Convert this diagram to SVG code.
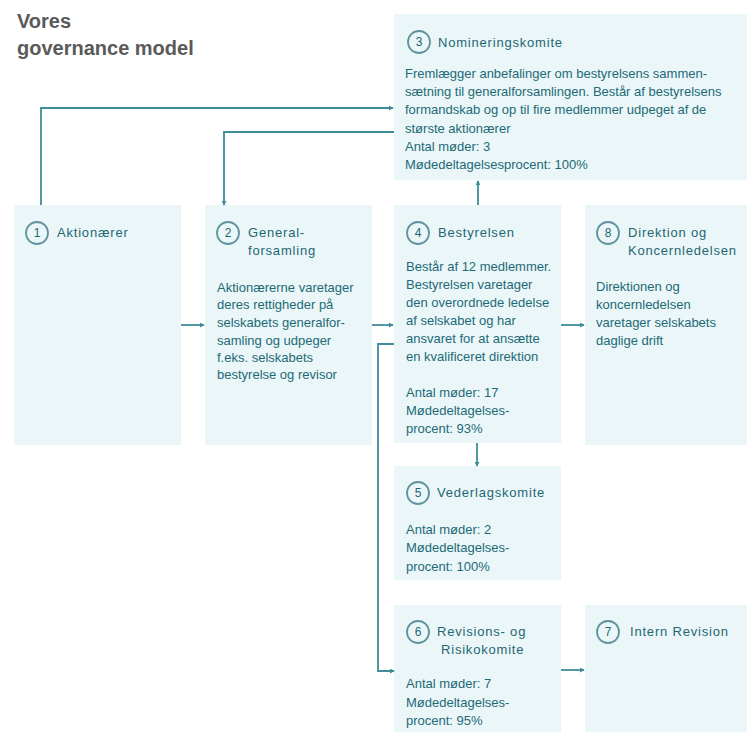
<svg xmlns="http://www.w3.org/2000/svg" width="747" height="732" viewBox="0 0 747 732">
<defs>
<style>
.box{fill:#eaf6f8;}
.ring{fill:none;stroke:#5f949d;stroke-width:1.8;}
.num{font-family:"Liberation Sans",Arial,sans-serif;font-size:12px;fill:#1f6673;text-anchor:middle;}
.ttl{font-family:"Liberation Sans",Arial,sans-serif;font-size:13px;fill:#1f6673;letter-spacing:0.8px;}
.txt{font-family:"Liberation Sans",Arial,sans-serif;font-size:13px;fill:#1d6a77;}
.head{font-family:"Liberation Sans",Arial,sans-serif;font-size:20px;font-weight:bold;fill:#5a5a5a;}
.con{fill:none;stroke:#3f8d9a;stroke-width:1.8;}
</style>
<marker id="ah" viewBox="0 0 6 6" refX="5" refY="3" markerWidth="5" markerHeight="5" markerUnits="userSpaceOnUse" orient="auto">
<path d="M0,0 L6,3 L0,6 z" fill="#3f8d9a"/>
</marker>
</defs>
<rect width="747" height="732" fill="#ffffff"/>

<g id="title">
<text class="head" x="17" y="28">Vores</text>
<text class="head" x="17" y="55">governance model</text>
</g>

<g id="n3">
<rect class="box" x="394" y="14" width="353" height="166"/>
<circle class="ring" cx="419" cy="42" r="11"/>
<text class="num" x="419" y="46">3</text>
<text class="ttl" x="438" y="47">Nomineringskomite</text>
<text class="txt" x="405" y="78">Fremlægger anbefalinger om bestyrelsens sammen-</text>
<text class="txt" x="405" y="96">sætning til generalforsamlingen. Består af bestyrelsens</text>
<text class="txt" x="405" y="114">formandskab og op til fire medlemmer udpeget af de</text>
<text class="txt" x="405" y="133">største aktionærer</text>
<text class="txt" x="405" y="151">Antal møder: 3</text>
<text class="txt" x="405" y="169">Mødedeltagelsesprocent: 100%</text>
</g>

<g id="n1">
<rect class="box" x="14" y="205" width="167" height="240"/>
<circle class="ring" cx="37" cy="233" r="11"/>
<text class="num" x="37" y="237">1</text>
<text class="ttl" x="57" y="237">Aktionærer</text>
</g>

<g id="n2">
<rect class="box" x="205" y="205" width="167" height="240"/>
<circle class="ring" cx="228" cy="233" r="11"/>
<text class="num" x="228" y="237">2</text>
<text class="ttl" x="248" y="237">General-</text>
<text class="ttl" x="248" y="255">forsamling</text>
<text class="txt" x="217" y="292">Aktionærerne varetager</text>
<text class="txt" x="217" y="309">deres rettigheder på</text>
<text class="txt" x="217" y="327">selskabets generalfor-</text>
<text class="txt" x="217" y="345">samling og udpeger</text>
<text class="txt" x="217" y="362">f.eks. selskabets</text>
<text class="txt" x="217" y="379">bestyrelse og revisor</text>
</g>

<g id="n4">
<rect class="box" x="394" y="205" width="167" height="238"/>
<circle class="ring" cx="418" cy="233" r="11"/>
<text class="num" x="418" y="237">4</text>
<text class="ttl" x="438" y="237">Bestyrelsen</text>
<text class="txt" x="406" y="271">Består af 12 medlemmer.</text>
<text class="txt" x="406" y="289">Bestyrelsen varetager</text>
<text class="txt" x="406" y="307">den overordnede ledelse</text>
<text class="txt" x="406" y="325">af selskabet og har</text>
<text class="txt" x="406" y="343">ansvaret for at ansætte</text>
<text class="txt" x="406" y="361">en kvalificeret direktion</text>
<text class="txt" x="406" y="397">Antal møder: 17</text>
<text class="txt" x="406" y="415">Mødedeltagelses-</text>
<text class="txt" x="406" y="433">procent: 93%</text>
</g>

<g id="n8">
<rect class="box" x="585" y="205" width="162" height="240"/>
<circle class="ring" cx="608" cy="233" r="11"/>
<text class="num" x="608" y="237">8</text>
<text class="ttl" x="628" y="237">Direktion og</text>
<text class="ttl" x="628" y="255">Koncernledelsen</text>
<text class="txt" x="596" y="291">Direktionen og</text>
<text class="txt" x="596" y="309">koncernledelsen</text>
<text class="txt" x="596" y="327">varetager selskabets</text>
<text class="txt" x="596" y="345">daglige drift</text>
</g>

<g id="n5">
<rect class="box" x="394" y="466" width="167" height="114"/>
<circle class="ring" cx="418" cy="493" r="11"/>
<text class="num" x="418" y="497">5</text>
<text class="ttl" x="437" y="497">Vederlagskomite</text>
<text class="txt" x="406" y="534">Antal møder: 2</text>
<text class="txt" x="406" y="552">Mødedeltagelses-</text>
<text class="txt" x="406" y="571">procent: 100%</text>
</g>

<g id="n6">
<rect class="box" x="394" y="605" width="167" height="127"/>
<circle class="ring" cx="418" cy="632" r="11"/>
<text class="num" x="418" y="636">6</text>
<text class="ttl" x="437" y="636">Revisions- og</text>
<text class="ttl" x="441" y="654">Risikokomite</text>
<text class="txt" x="406" y="688">Antal møder: 7</text>
<text class="txt" x="406" y="707">Mødedeltagelses-</text>
<text class="txt" x="406" y="725">procent: 95%</text>
</g>

<g id="n7">
<rect class="box" x="585" y="605" width="162" height="127"/>
<circle class="ring" cx="608" cy="632" r="11"/>
<text class="num" x="608" y="636">7</text>
<text class="ttl" x="630" y="636">Intern Revision</text>
</g>

<g id="connectors">
<path class="con" d="M41,205 V108 H393" marker-end="url(#ah)"/>
<path class="con" d="M394,132 H224 V205" marker-end="url(#ah)"/>
<path class="con" d="M181,325 H204" marker-end="url(#ah)"/>
<path class="con" d="M372,325 H393" marker-end="url(#ah)"/>
<path class="con" d="M561,325 H584" marker-end="url(#ah)"/>
<path class="con" d="M478,205 V181" marker-end="url(#ah)"/>
<path class="con" d="M477,443 V466" marker-end="url(#ah)"/>
<path class="con" d="M394,344 H378 V671 H394" marker-end="url(#ah)"/>
<path class="con" d="M561,670 H584" marker-end="url(#ah)"/>
</g>
</svg>
